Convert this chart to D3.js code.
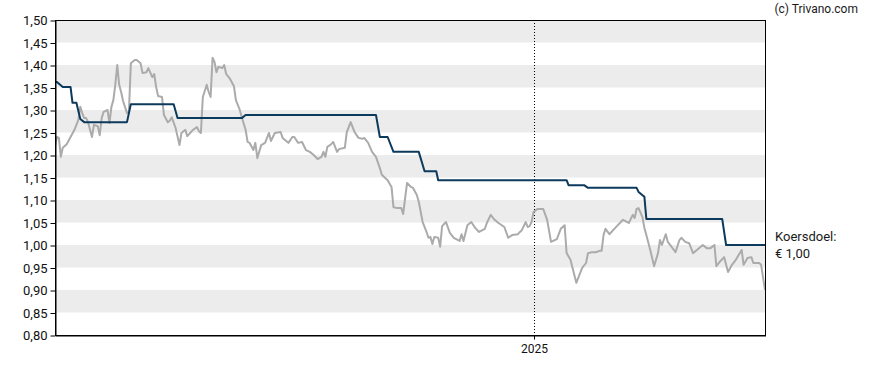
<!DOCTYPE html>
<html>
<head>
<meta charset="utf-8">
<script src="https://cdn.jsdelivr.net/npm/d3@7"></script>
<style>
  body { margin: 0; background: #fff; }
  svg { display: block; font-family: Roboto, "Noto Sans", sans-serif; }
</style>
</head>
<body>
<svg class="chart-koers" width="888" height="370"></svg>
<script>
// slotkoers (grijs)
var koers = [
  ["2024-04-30",1.220],["2024-05-01",1.240],["2024-05-02",1.238],["2024-05-03",1.196],
  ["2024-05-04",1.216],["2024-05-06",1.224],["2024-05-08",1.240],["2024-05-10",1.256],
  ["2024-05-11",1.267],["2024-05-12",1.278],["2024-05-13",1.307],["2024-05-14",1.293],
  ["2024-05-15",1.282],["2024-05-16",1.282],["2024-05-17",1.273],["2024-05-19",1.240],
  ["2024-05-20",1.267],["2024-05-22",1.264],["2024-05-23",1.244],["2024-05-24",1.282],
  ["2024-05-25",1.296],["2024-05-27",1.300],["2024-05-28",1.271],["2024-05-29",1.307],
  ["2024-05-30",1.322],["2024-05-31",1.356],["2024-06-01",1.400],["2024-06-02",1.356],
  ["2024-06-03",1.340],["2024-06-04",1.320],["2024-06-06",1.293],["2024-06-07",1.296],
  ["2024-06-08",1.404],["2024-06-10",1.411],["2024-06-11",1.411],["2024-06-13",1.404],
  ["2024-06-14",1.382],["2024-06-16",1.384],["2024-06-17",1.393],["2024-06-19",1.373],
  ["2024-06-20",1.380],["2024-06-21",1.351],["2024-06-22",1.331],["2024-06-24",1.329],
  ["2024-06-25",1.289],["2024-06-27",1.273],["2024-06-28",1.276],["2024-06-29",1.284],
  ["2024-07-01",1.260],["2024-07-03",1.222],["2024-07-04",1.249],["2024-07-06",1.256],
  ["2024-07-07",1.242],["2024-07-10",1.256],["2024-07-12",1.262],["2024-07-13",1.253],
  ["2024-07-14",1.249],["2024-07-15",1.329],["2024-07-17",1.356],["2024-07-18",1.340],
  ["2024-07-19",1.329],["2024-07-20",1.416],["2024-07-21",1.407],["2024-07-22",1.384],
  ["2024-07-23",1.396],["2024-07-25",1.393],["2024-07-26",1.400],["2024-07-27",1.380],
  ["2024-07-29",1.369],["2024-07-31",1.353],["2024-08-01",1.322],["2024-08-03",1.300],
  ["2024-08-04",1.284],["2024-08-06",1.256],["2024-08-07",1.229],["2024-08-08",1.227],
  ["2024-08-10",1.211],["2024-08-11",1.227],["2024-08-12",1.193],["2024-08-14",1.222],
  ["2024-08-16",1.227],["2024-08-18",1.249],["2024-08-19",1.231],["2024-08-21",1.249],
  ["2024-08-24",1.251],["2024-08-25",1.238],["2024-08-28",1.227],["2024-08-30",1.240],
  ["2024-08-31",1.240],["2024-09-02",1.227],["2024-09-04",1.229],["2024-09-06",1.211],
  ["2024-09-08",1.207],["2024-09-10",1.200],["2024-09-12",1.191],["2024-09-14",1.196],
  ["2024-09-15",1.207],["2024-09-16",1.196],["2024-09-17",1.218],["2024-09-19",1.224],
  ["2024-09-20",1.229],["2024-09-22",1.207],["2024-09-23",1.213],["2024-09-26",1.216],
  ["2024-09-27",1.251],["2024-09-29",1.273],["2024-10-01",1.251],["2024-10-03",1.238],
  ["2024-10-05",1.236],["2024-10-06",1.238],["2024-10-08",1.227],["2024-10-10",1.207],
  ["2024-10-12",1.196],["2024-10-14",1.171],["2024-10-15",1.156],["2024-10-18",1.144],
  ["2024-10-20",1.129],["2024-10-21",1.084],["2024-10-23",1.082],["2024-10-25",1.082],
  ["2024-10-26",1.069],["2024-10-27",1.104],["2024-10-28",1.138],["2024-10-30",1.129],
  ["2024-10-31",1.127],["2024-11-02",1.111],["2024-11-03",1.096],["2024-11-05",1.051],
  ["2024-11-07",1.029],["2024-11-08",1.016],["2024-11-09",1.018],["2024-11-10",1.002],
  ["2024-11-11",1.018],["2024-11-13",1.016],["2024-11-14",0.996],["2024-11-15",1.042],
  ["2024-11-17",1.051],["2024-11-19",1.027],["2024-11-21",1.016],["2024-11-24",1.009],
  ["2024-11-25",1.024],["2024-11-26",1.009],["2024-11-28",1.044],["2024-11-30",1.051],
  ["2024-12-02",1.038],["2024-12-04",1.029],["2024-12-07",1.036],["2024-12-08",1.049],
  ["2024-12-10",1.067],["2024-12-12",1.056],["2024-12-14",1.049],["2024-12-17",1.040],
  ["2024-12-19",1.016],["2024-12-21",1.022],["2024-12-24",1.024],["2024-12-25",1.029],
  ["2024-12-26",1.033],["2024-12-28",1.051],["2024-12-29",1.040],["2024-12-30",1.042],
  ["2024-12-31",1.051],["2025-01-01",1.073],["2025-01-03",1.080],["2025-01-06",1.080],
  ["2025-01-08",1.056],["2025-01-10",1.007],["2025-01-13",1.013],["2025-01-15",1.036],
  ["2025-01-17",1.044],["2025-01-18",0.982],["2025-01-20",0.967],["2025-01-23",0.916],
  ["2025-01-25",0.938],["2025-01-26",0.949],["2025-01-28",0.960],["2025-01-29",0.982],
  ["2025-01-31",0.984],["2025-02-02",0.984],["2025-02-04",0.987],["2025-02-05",0.987],
  ["2025-02-06",1.022],["2025-02-07",1.036],["2025-02-09",1.024],["2025-02-12",1.038],
  ["2025-02-16",1.056],["2025-02-19",1.049],["2025-02-21",1.067],["2025-02-22",1.060],
  ["2025-02-23",1.080],["2025-02-24",1.082],["2025-02-26",1.062],["2025-02-27",1.038],
  ["2025-02-28",1.022],["2025-03-02",0.989],["2025-03-04",0.953],["2025-03-06",0.982],
  ["2025-03-07",1.011],["2025-03-08",1.000],["2025-03-10",1.024],["2025-03-11",1.007],
  ["2025-03-13",0.996],["2025-03-15",0.984],["2025-03-17",1.011],["2025-03-18",1.016],
  ["2025-03-20",1.007],["2025-03-22",1.004],["2025-03-24",0.982],["2025-03-26",0.989],
  ["2025-03-29",1.000],["2025-03-31",0.993],["2025-04-02",0.993],["2025-04-04",1.000],
  ["2025-04-05",0.953],["2025-04-07",0.964],["2025-04-09",0.973],["2025-04-11",0.940],
  ["2025-04-13",0.956],["2025-04-15",0.967],["2025-04-18",0.989],["2025-04-19",0.956],
  ["2025-04-21",0.971],["2025-04-23",0.973],["2025-04-24",0.960],["2025-04-27",0.960],
  ["2025-04-28",0.956],["2025-04-30",0.900]
];

// gemiddeld koersdoel (blauw)
var koersdoel = [
  ["2024-04-30",1.362],["2024-05-01",1.362],["2024-05-04",1.351],["2024-05-08",1.351],
  ["2024-05-09",1.316],["2024-05-11",1.316],["2024-05-13",1.280],["2024-05-15",1.273],
  ["2024-06-06",1.273],["2024-06-08",1.313],["2024-06-30",1.313],["2024-07-02",1.282],
  ["2024-08-04",1.282],["2024-08-06",1.289],["2024-10-12",1.289],["2024-10-14",1.240],
  ["2024-10-18",1.240],["2024-10-21",1.207],["2024-11-03",1.207],["2024-11-06",1.164],
  ["2024-11-12",1.164],["2024-11-13",1.144],["2025-01-18",1.144],["2025-01-19",1.133],
  ["2025-01-27",1.133],["2025-01-29",1.127],["2025-02-23",1.127],["2025-02-24",1.118],
  ["2025-02-27",1.107],["2025-02-28",1.058],["2025-04-08",1.058],["2025-04-10",1.000],
  ["2025-04-30",1.000]
];

var periode = ["2024-04-30", "2025-04-30"];
var yTicks = [0.80, 0.85, 0.90, 0.95, 1.00, 1.05, 1.10, 1.15, 1.20, 1.25, 1.30, 1.35, 1.40, 1.45, 1.50];
var jaarTicks = ["2025-01-01"];
var doelLabel = ["Koersdoel:", "€ 1,00"];

var margin = { top: 20, right: 123, bottom: 35, left: 55 };
var W = 888, H = 370;
var parse = d3.timeParse("%Y-%m-%d");
var nl = d3.formatLocale({ decimal: ",", thousands: ".", grouping: [3], currency: ["€ ", ""] });
var fmt = nl.format(".2f");

var svg = d3.select("svg.chart-koers");

var x = d3.scaleTime()
          .domain(periode.map(parse))
          .range([margin.left, W - margin.right]);

var y = d3.scaleLinear()
          .domain([yTicks[0], yTicks[yTicks.length - 1]])
          .range([H - margin.bottom, margin.top]);

// grijze banden
var banden = yTicks.slice(0, -1)
                   .map(function (t, i) { return [t, yTicks[i + 1]]; })
                   .filter(function (b, i) { return i % 2 == 1; });

svg.append("g")
   .selectAll("rect")
   .data(banden)
   .enter()
   .append("rect")
   .attr("x", margin.left)
   .attr("width", W - margin.right - margin.left)
   .attr("y", function (d) { return y(d[1]); })
   .attr("height", function (d) { return y(d[0]) - y(d[1]); })
   .attr("fill", "#ececec");

// stippellijn jaargrens
svg.append("g")
   .selectAll("line")
   .data(jaarTicks.map(parse))
   .enter()
   .append("line")
   .attr("x1", function (d) { return Math.round(x(d)) + 0.5; })
   .attr("x2", function (d) { return Math.round(x(d)) + 0.5; })
   .attr("y1", margin.top)
   .attr("y2", H - margin.bottom)
   .attr("stroke", "#000")
   .attr("stroke-width", 1)
   .attr("stroke-dasharray", "1,2");

svg.append("clipPath")
   .attr("id", "plot")
   .append("rect")
   .attr("x", margin.left)
   .attr("y", margin.top)
   .attr("width", W - margin.right - margin.left)
   .attr("height", H - margin.bottom - margin.top);

var line = d3.line()
             .x(function (d) { return x(parse(d[0])); })
             .y(function (d) { return y(d[1]); });

svg.append("path")
   .datum(koers)
   .attr("clip-path", "url(#plot)")
   .attr("d", line)
   .attr("fill", "none")
   .attr("stroke", "#ababab")
   .attr("stroke-width", 2)
   .attr("stroke-linejoin", "round");

svg.append("path")
   .datum(koersdoel)
   .attr("clip-path", "url(#plot)")
   .attr("d", line)
   .attr("fill", "none")
   .attr("stroke", "#0c3a5c")
   .attr("stroke-width", 2)
   .attr("stroke-linejoin", "round");

// kader
svg.append("rect")
   .attr("x", margin.left + 0.5)
   .attr("y", margin.top + 0.5)
   .attr("width", W - margin.right - margin.left)
   .attr("height", H - margin.bottom - margin.top)
   .attr("fill", "none")
   .attr("stroke", "#000")
   .attr("stroke-width", 1);

// assen
var yAxis = svg.append("g")
   .attr("transform", "translate(" + (margin.left + 0.5) + ",0.5)")
   .call(d3.axisLeft(y).tickValues(yTicks).tickSize(5).tickSizeOuter(0).tickPadding(3).tickFormat(fmt));

var xAxis = svg.append("g")
   .attr("transform", "translate(0.5," + (H - margin.bottom + 0.5) + ")")
   .call(d3.axisBottom(x).tickValues(jaarTicks.map(parse)).tickSize(4).tickSizeOuter(0).tickPadding(5)
           .tickFormat(d3.timeFormat("%Y")));

[yAxis, xAxis].forEach(function (a) {
    a.select(".domain").attr("stroke", "#000");
    a.selectAll(".tick line").attr("stroke", "#000");
    a.selectAll(".tick text")
     .attr("fill", "#111")
     .style("font-family", "Roboto, sans-serif")
     .style("font-size", "13px");
});
xAxis.selectAll(".tick text").style("font-size", "12px");

// koersdoel label
var laatste = koersdoel[koersdoel.length - 1][1];
svg.append("g")
   .selectAll("text")
   .data(doelLabel)
   .enter()
   .append("text")
   .attr("x", W - margin.right + 10)
   .attr("y", function (d, i) { return y(laatste) - 4 + i * 17; })
   .attr("fill", "#1a1a1a")
   .style("font-size", "13px")
   .text(function (d) { return d; });

svg.append("text")
   .attr("x", 858)
   .attr("y", 13)
   .attr("text-anchor", "end")
   .attr("fill", "#1a1a1a")
   .style("font-size", "12px")
   .text("(c) Trivano.com");
</script>
</body>
</html>
